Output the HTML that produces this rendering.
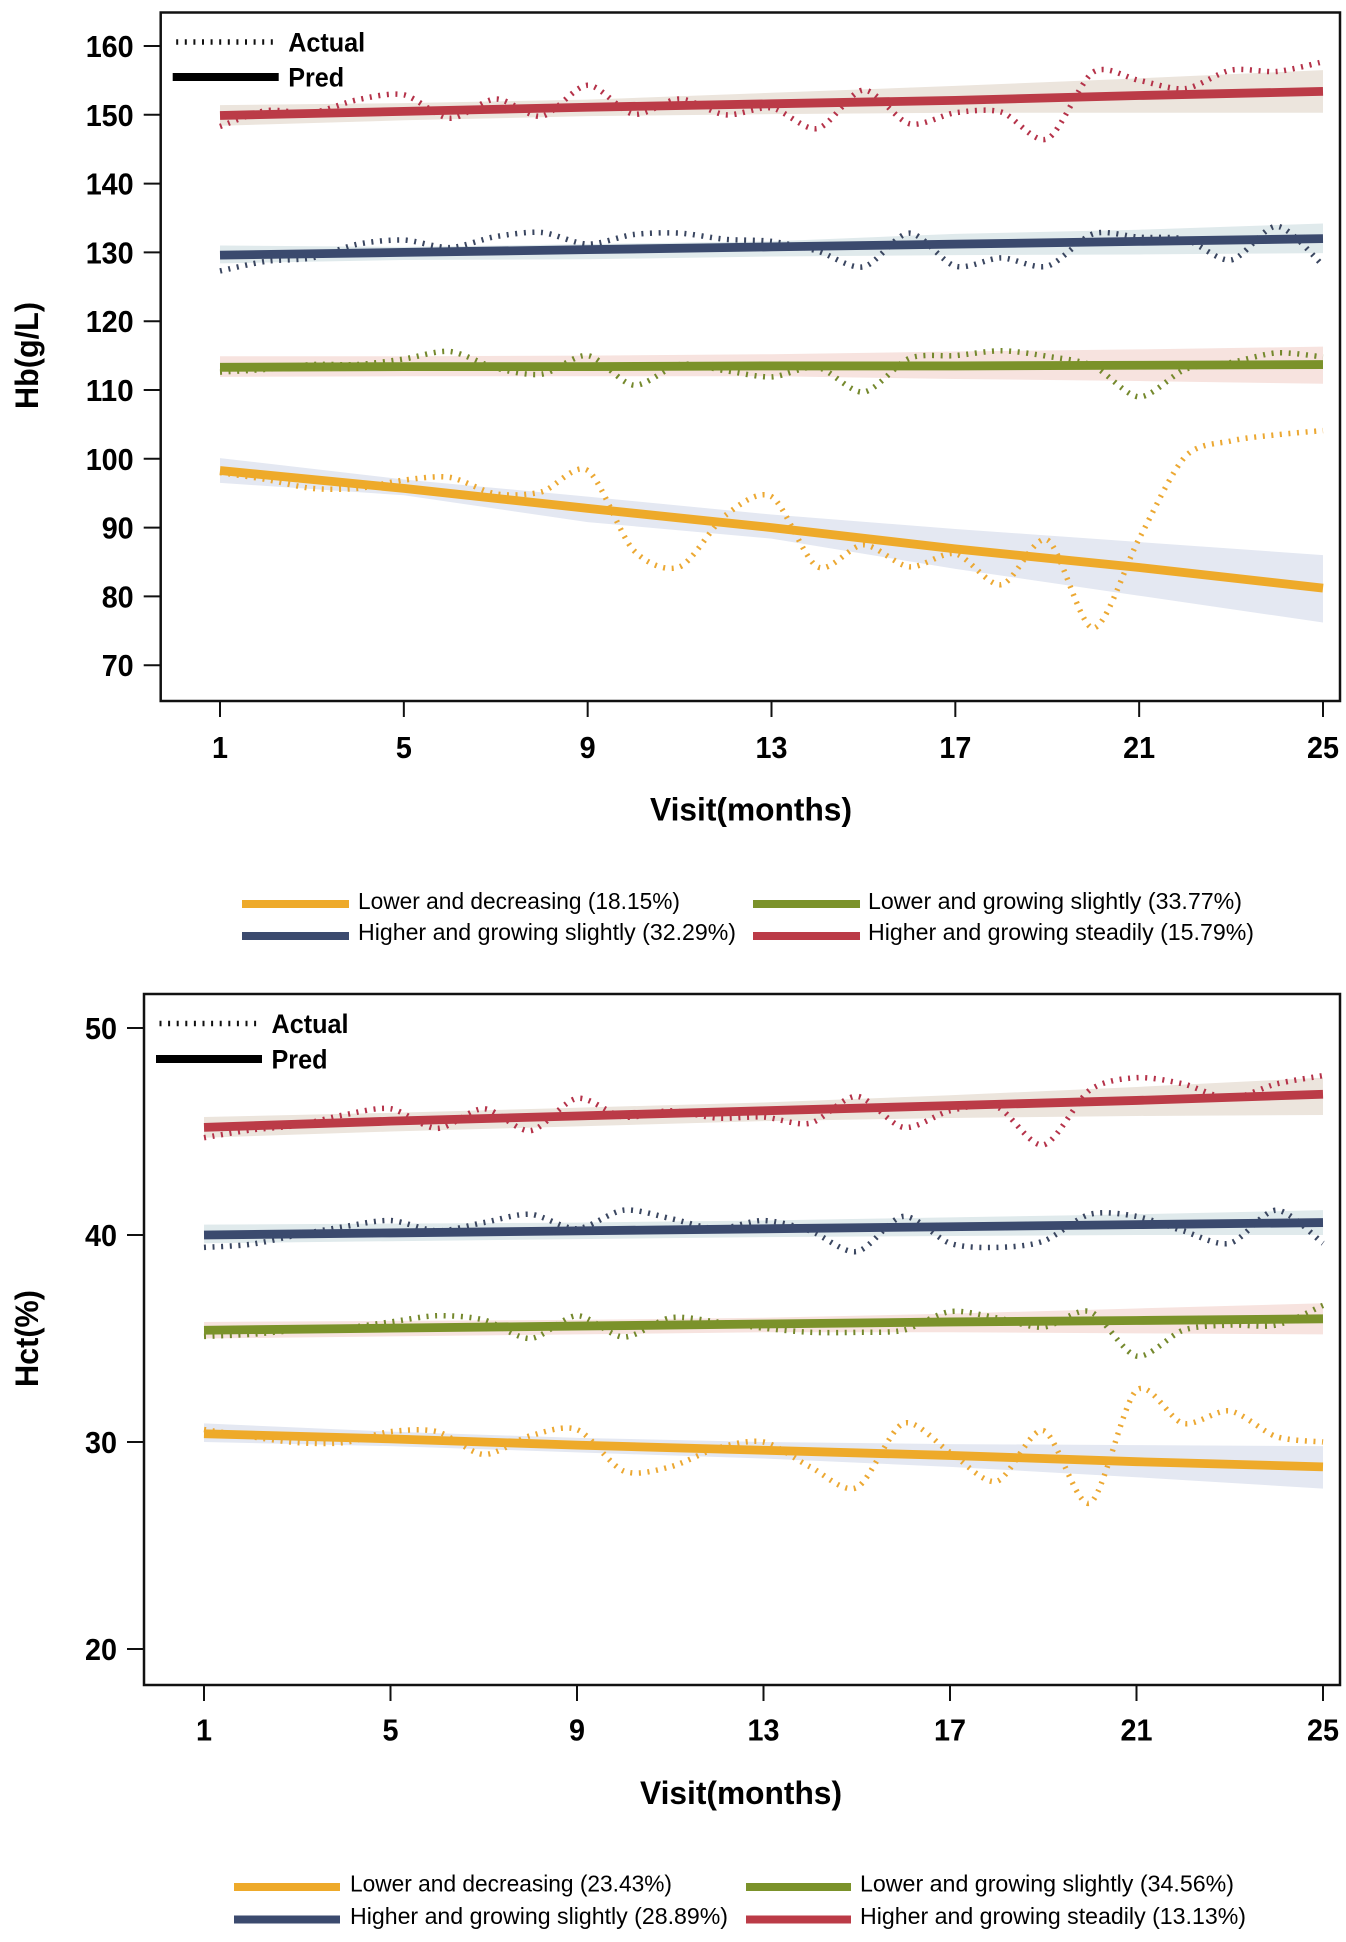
<!DOCTYPE html>
<html lang="en">
<head>
<meta charset="utf-8">
<title>Hb and Hct trajectories by visit</title>
<style>
html,body{margin:0;padding:0;background:#fff;}
svg{display:block;}
text{font-family:"Liberation Sans",Arial,sans-serif;fill:#000;}
.tick{font-size:31px;font-weight:700;}
.title{font-size:32px;font-weight:700;}
.key{font-size:27px;font-weight:700;}
.leg{font-size:23.5px;font-weight:400;}
</style>
</head>
<body>
<svg id="figure" xmlns="http://www.w3.org/2000/svg" width="1346" height="1942" viewBox="0 0 1346 1942">
  <rect width="1346" height="1942" fill="#fff"/>
  <g id="hb-chart"></g>
  <g id="hct-chart"></g>

  <g>
    <rect x="242" y="900" width="107" height="8" fill="#eeaa2a"/>
    <text class="leg" x="358" y="909" textLength="322" lengthAdjust="spacingAndGlyphs">Lower and decreasing (18.15%)</text>
    <rect x="242" y="932" width="107" height="8" fill="#3b4a6e"/>
    <text class="leg" x="358" y="940" textLength="378" lengthAdjust="spacingAndGlyphs">Higher and growing slightly (32.29%)</text>
    <rect x="753" y="900" width="107" height="8" fill="#7b922a"/>
    <text class="leg" x="868" y="909" textLength="374" lengthAdjust="spacingAndGlyphs">Lower and growing slightly (33.77%)</text>
    <rect x="753" y="932" width="107" height="8" fill="#bb3b47"/>
    <text class="leg" x="868" y="940" textLength="386" lengthAdjust="spacingAndGlyphs">Higher and growing steadily (15.79%)</text>
  </g>

  <g>
    <rect x="234" y="1883" width="106" height="8" fill="#eeaa2a"/>
    <text class="leg" x="350" y="1891.5" textLength="322" lengthAdjust="spacingAndGlyphs">Lower and decreasing (23.43%)</text>
    <rect x="234" y="1915.5" width="106" height="8" fill="#3b4a6e"/>
    <text class="leg" x="350" y="1924" textLength="378" lengthAdjust="spacingAndGlyphs">Higher and growing slightly (28.89%)</text>
    <rect x="746" y="1883" width="105" height="8" fill="#7b922a"/>
    <text class="leg" x="860" y="1891.5" textLength="374" lengthAdjust="spacingAndGlyphs">Lower and growing slightly (34.56%)</text>
    <rect x="746" y="1915.5" width="105" height="8" fill="#bb3b47"/>
    <text class="leg" x="860" y="1924" textLength="386" lengthAdjust="spacingAndGlyphs">Higher and growing steadily (13.13%)</text>
  </g>
</svg>

<script>
// Shared categories
const visits = [1,2,3,4,5,6,7,8,9,10,11,12,13,14,15,16,17,18,19,20,21,22,23,24,25];
const xTickLabels = [1,5,9,13,17,21,25];
const fitVisits = [1,5,9,13,17,21,25];
const seriesNames = ['lower-decreasing','higher-slightly','lower-growing','higher-steadily'];

// Hb chart values
const hbTickLabels = [160,150,140,130,120,110,100,90,80,70];
const hbActualOrange = [98,97,95.7,95.7,96.9,97.3,94.9,95.2,98.3,86.7,84.3,91.8,94.5,84.3,87.5,84.3,86.2,81.7,88.2,75.4,88.4,100.3,102.6,103.5,104.1];
const hbActualBlue = [127.3,128.7,129.2,131.2,131.8,130.7,132.3,132.9,131.2,132.6,132.8,131.9,131.6,130.2,127.9,132.8,128,129.2,128,132.7,132.2,131.9,128.9,133.8,128.1];
const hbActualGreen = [112.6,113,113.7,113.7,114.5,115.6,113.2,112.3,115,110.7,113.7,112.8,111.9,113.3,109.7,114.6,115,115.7,114.9,113.5,109,113,114,115.4,114.8];
const hbActualRed = [148.3,150.6,150.3,152.2,152.9,149.5,152.3,149.8,154.3,150.1,152.3,150,151,148,153.6,148.7,150.3,150.4,146.5,156.2,155,153.8,156.5,156.3,157.7];
const hbPredOrange = [98.3,95.7,92.8,90,86.9,84.2,81.2];
const hbPredBlue = [129.6,130,130.4,130.8,131.2,131.6,132];
const hbPredGreen = [113.3,113.4,113.4,113.5,113.5,113.6,113.7];
const hbPredRed = [149.9,150.5,151.1,151.6,152.1,152.8,153.4];
const hbUpperOrange = [100.1,97,94.5,91.9,89.8,87.9,86];
const hbLowerOrange = [96.5,94.7,90.8,88.4,84,80.1,76.2];
const hbUpperBlue = [131,130.8,131.2,131.6,132.7,133.3,134.2];
const hbLowerBlue = [128.4,128.9,129,129.4,129.6,129.7,129.9];
const hbUpperGreen = [114.9,114.9,115,115.2,115.6,115.9,116.3];
const hbLowerGreen = [111.9,112,112,112,111.6,111.3,110.9];
const hbUpperRed = [151.4,151.7,152.2,153.2,154.2,155.3,156.5];
const hbLowerRed = [148.4,149.2,149.8,150.1,150.3,150.3,150.3];

// Hct chart values
const hctTickLabels = [50,40,30,20];
const hctActualOrange = [30.6,30.26,29.97,29.97,30.5,30.5,29.4,30.3,30.6,28.6,28.8,29.7,30,28.8,27.8,30.9,29.5,28.1,30.55,27.05,32.5,30.9,31.5,30.26,30];
const hctActualBlue = [39.4,39.55,40,40.4,40.7,40.2,40.6,41,40.3,41.2,40.8,40.3,40.7,40.2,39.2,40.9,39.6,39.4,39.7,41,40.9,40.2,39.6,41.2,39.6];
const hctActualGreen = [35.1,35.2,35.4,35.5,35.8,36.1,35.9,35,36.1,35.07,36,35.8,35.5,35.3,35.3,35.4,36.3,36,35.55,36.3,34.15,35.4,35.65,35.65,36.6];
const hctActualRed = [44.7,45.07,45.3,45.8,46.1,45.15,46.1,45.04,46.6,45.7,46,45.65,45.7,45.4,46.7,45.2,46,46.2,44.35,47,47.6,47.3,46.6,47.3,47.7];
const hctPredOrange = [30.4,30.15,29.85,29.6,29.35,29.05,28.8];
const hctPredBlue = [40,40.1,40.2,40.3,40.4,40.5,40.6];
const hctPredGreen = [35.4,35.5,35.6,35.7,35.8,35.87,35.95];
const hctPredRed = [45.2,45.5,45.75,46,46.25,46.5,46.8];
const hctUpperOrange = [30.9,30.5,30.2,30,29.9,29.85,29.8];
const hctLowerOrange = [30,29.8,29.5,29.2,28.8,28.3,27.75];
const hctUpperBlue = [40.5,40.55,40.6,40.7,40.85,41,41.2];
const hctLowerBlue = [39.6,39.7,39.8,39.9,39.95,40,40];
const hctUpperGreen = [35.8,35.85,35.9,36,36.2,36.45,36.7];
const hctLowerGreen = [35,35.1,35.2,35.3,35.3,35.25,35.2];
const hctUpperRed = [45.7,45.9,46.15,46.4,46.75,47.15,47.6];
const hctLowerRed = [44.7,45,45.25,45.5,45.65,45.75,45.8];

const NS = 'http://www.w3.org/2000/svg';
const colorOf = {
  'lower-decreasing': {line:'#eeaa2a', dash:'#eca832', band:'#e4e8f2'},
  'higher-slightly':  {line:'#3b4a6e', dash:'#3a4660', band:'#e0eaec'},
  'lower-growing':    {line:'#7b922a', dash:'#74882c', band:'#f7e3df'},
  'higher-steadily':  {line:'#bb3b47', dash:'#b53249', band:'#ece5dd'}
};

function mk(parent, tag, attrs, txt) {
  const el = document.createElementNS(NS, tag);
  for (const k in attrs) el.setAttribute(k, attrs[k]);
  if (txt !== undefined) el.textContent = txt;
  parent.appendChild(el);
  return el;
}

function smoothPath(pts) {
  let d = 'M' + pts[0][0].toFixed(2) + ' ' + pts[0][1].toFixed(2);
  for (let i = 0; i < pts.length - 1; i++) {
    const p0 = pts[Math.max(i - 1, 0)], p1 = pts[i], p2 = pts[i + 1], p3 = pts[Math.min(i + 2, pts.length - 1)];
    const c1x = p1[0] + (p2[0] - p0[0]) / 7, c1y = p1[1] + (p2[1] - p0[1]) / 7;
    const c2x = p2[0] - (p3[0] - p1[0]) / 7, c2y = p2[1] - (p3[1] - p1[1]) / 7;
    d += 'C' + c1x.toFixed(2) + ' ' + c1y.toFixed(2) + ' ' + c2x.toFixed(2) + ' ' + c2y.toFixed(2) + ' ' + p2[0].toFixed(2) + ' ' + p2[1].toFixed(2);
  }
  return d;
}

function drawChart(cfg) {
  const root = document.getElementById(cfg.id);
  const x = v => cfg.x1 + (v - 1) * (cfg.x25 - cfg.x1) / 24;
  const y = v => cfg.yRef + (cfg.vRef - v) * cfg.pxPerUnit;

  // confidence bands
  cfg.series.forEach((s, i) => {
    const top = s.upper.map((v, k) => x(fitVisits[k]) + ' ' + y(v));
    const bot = s.lower.map((v, k) => x(fitVisits[k]) + ' ' + y(v)).reverse();
    const band = mk(root, 'polygon', {points: top.concat(bot).join(' '), fill: colorOf[seriesNames[i]].band});
    
    
  });

  // actual dotted curves
  cfg.series.forEach((s, i) => {
    const pts = s.actual.map((v, k) => [x(visits[k]), y(v)]);
    const line = mk(root, 'path', {d: smoothPath(pts), fill: 'none', stroke: colorOf[seriesNames[i]].dash, 'stroke-width': 5.5, 'stroke-dasharray': '2 6.6'});
    
    
  });

  // predicted lines
  cfg.series.forEach((s, i) => {
    const pts = s.pred.map((v, k) => x(fitVisits[k]) + ' ' + y(v));
    const line = mk(root, 'polyline', {points: pts.join(' '), fill: 'none', stroke: colorOf[seriesNames[i]].line, 'stroke-width': 8.8});
    
    
  });

  // frame
  const frame = mk(root, 'rect', {x: cfg.left, y: cfg.top, width: cfg.right - cfg.left, height: cfg.bottom - cfg.top, fill: 'none', stroke: '#111', 'stroke-width': 2.5});
  
  

  // y axis
  cfg.yTicks.forEach(t => {
    const tick = mk(root, 'line', {x1: cfg.left - 17, x2: cfg.left, y1: y(t), y2: y(t), stroke: '#111', 'stroke-width': 2});
    
    
    const label = mk(root, 'text', {x: cfg.left - 27, y: y(t) + 11, 'text-anchor': 'end', class: 'tick', textLength: String(t).length * 16, lengthAdjust: 'spacingAndGlyphs'}, String(t));
    
    
  });

  // x axis
  xTickLabels.forEach(t => {
    const tick = mk(root, 'line', {x1: x(t), x2: x(t), y1: cfg.bottom, y2: cfg.bottom + 16, stroke: '#111', 'stroke-width': 2});
    
    
    const label = mk(root, 'text', {x: x(t), y: cfg.bottom + cfg.xLabelOffset, 'text-anchor': 'middle', class: 'tick', textLength: String(t).length * 16, lengthAdjust: 'spacingAndGlyphs'}, String(t));
    
    
  });

  // axis titles
  const xTitle = mk(root, 'text', {x: cfg.xTitleX, y: cfg.xTitleY, 'text-anchor': 'middle', class: 'title', textLength: 202, lengthAdjust: 'spacingAndGlyphs'}, 'Visit(months)');
  
  
  const yTitle = mk(root, 'text', {transform: 'translate(38 ' + cfg.yTitleY + ') rotate(-90)', 'text-anchor': 'middle', class: 'title', textLength: cfg.yTitleLen, lengthAdjust: 'spacingAndGlyphs'}, cfg.yTitle);
  
  

  // key
  const keyDash = mk(root, 'line', {x1: cfg.left + 15.5, x2: cfg.left + 113, y1: cfg.keyY1, y2: cfg.keyY1, stroke: '#111', 'stroke-width': 5.5, 'stroke-dasharray': '2 6.6'});
  
  
  const keyActual = mk(root, 'text', {x: cfg.left + 127.5, y: cfg.keyY1 + 9.5, class: 'key', textLength: 77, lengthAdjust: 'spacingAndGlyphs'}, 'Actual');
  
  
  const keySolid = mk(root, 'line', {x1: cfg.left + 12, x2: cfg.left + 118, y1: cfg.keyY2, y2: cfg.keyY2, stroke: '#000', 'stroke-width': 8});
  
  
  const keyPred = mk(root, 'text', {x: cfg.left + 127.5, y: cfg.keyY2 + 9.5, class: 'key', textLength: 56, lengthAdjust: 'spacingAndGlyphs'}, 'Pred');
  
  
}

drawChart({
  id: 'hb-chart', left: 160.7, right: 1340, top: 12.5, bottom: 701,
  x1: 220, x25: 1323, yRef: 46, vRef: 160, pxPerUnit: 6.88,
  yTicks: hbTickLabels, yTitle: 'Hb(g/L)', yTitleY: 355.5, yTitleLen: 107,
  xTitleX: 751, xTitleY: 820.5, keyY1: 42, keyY2: 77, xLabelOffset: 57,
  series: [
    {actual: hbActualOrange, pred: hbPredOrange, upper: hbUpperOrange, lower: hbLowerOrange},
    {actual: hbActualBlue, pred: hbPredBlue, upper: hbUpperBlue, lower: hbLowerBlue},
    {actual: hbActualGreen, pred: hbPredGreen, upper: hbUpperGreen, lower: hbLowerGreen},
    {actual: hbActualRed, pred: hbPredRed, upper: hbUpperRed, lower: hbLowerRed}
  ]
});

drawChart({
  id: 'hct-chart', left: 144, right: 1340, top: 994, bottom: 1685,
  x1: 204, x25: 1323, yRef: 1028, vRef: 50, pxPerUnit: 20.7,
  yTicks: hctTickLabels, yTitle: 'Hct(%)', yTitleY: 1338.5, yTitleLen: 97,
  xTitleX: 741, xTitleY: 1804, keyY1: 1023.5, keyY2: 1059, xLabelOffset: 55.5,
  series: [
    {actual: hctActualOrange, pred: hctPredOrange, upper: hctUpperOrange, lower: hctLowerOrange},
    {actual: hctActualBlue, pred: hctPredBlue, upper: hctUpperBlue, lower: hctLowerBlue},
    {actual: hctActualGreen, pred: hctPredGreen, upper: hctUpperGreen, lower: hctLowerGreen},
    {actual: hctActualRed, pred: hctPredRed, upper: hctUpperRed, lower: hctLowerRed}
  ]
});
</script>
</body>
</html>
